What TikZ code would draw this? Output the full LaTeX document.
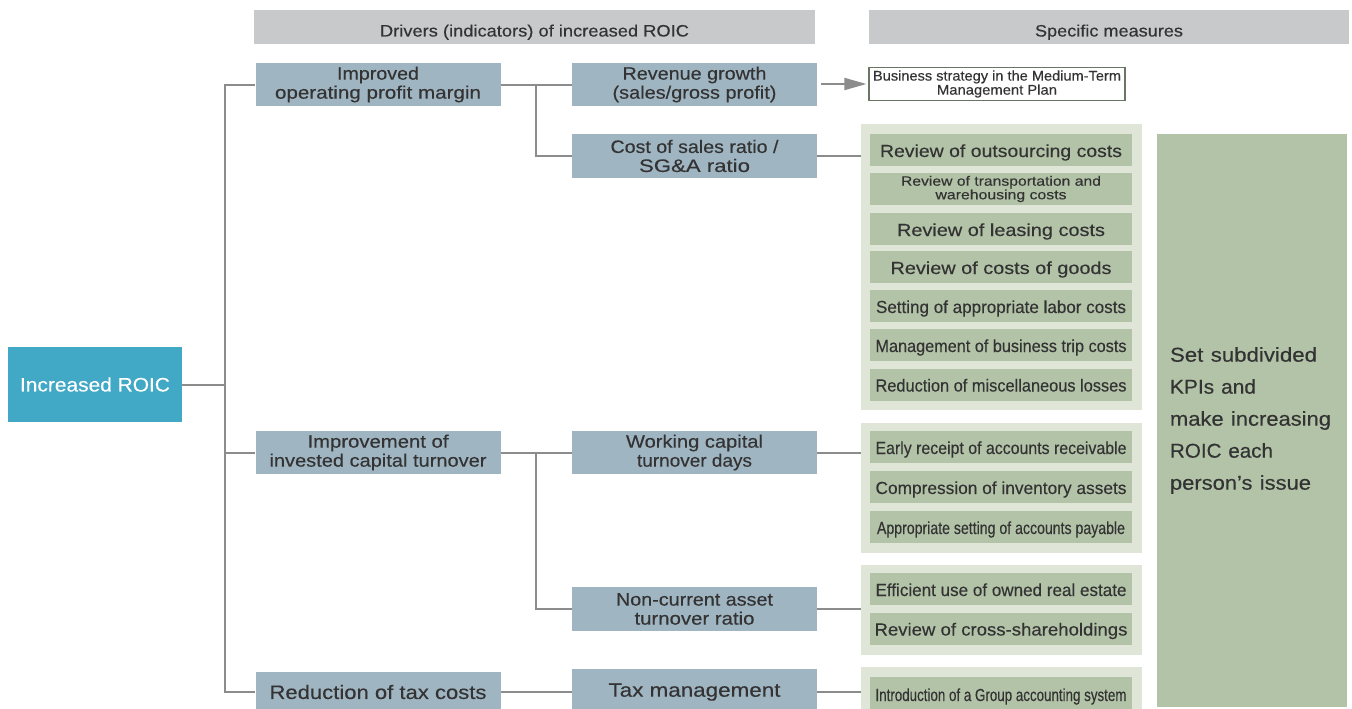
\documentclass[tikz,border=0pt]{standalone}
\usepackage{fontspec}
\setmainfont{Liberation Sans}[FakeBold=0.3]
\usepackage{graphicx}
\usepackage{xcolor}
\usepackage{tikz}
\usetikzlibrary{arrows.meta}
\definecolor{hdrgray}{HTML}{C8C9CB}
\definecolor{lvlblue}{HTML}{A0B5C2}
\definecolor{roicblue}{HTML}{41A8C6}
\definecolor{panelgreen}{HTML}{DFE6D8}
\definecolor{msrgreen}{HTML}{B3C3A8}
\definecolor{linegray}{HTML}{8C8C8C}
\definecolor{txt}{HTML}{333333}
\newcommand{\fw}[2]{\resizebox{#1pt}{\height}{#2}}

\begin{document}
\begin{tikzpicture}[x=1pt, y=-1pt,
    hdr/.style={fill=hdrgray, minimum height=34pt, inner sep=0pt, text height=19pt, text depth=0pt, text=txt, font=\fontsize{16.5}{18}\selectfont},
    lvl/.style={fill=lvlblue, minimum width=245pt, minimum height=43pt, inner sep=0pt, align=center, text=txt, font=\fontsize{18}{19}\selectfont},
    panel/.style={fill=panelgreen, minimum width=281pt, inner sep=0pt},
    msr/.style={fill=msrgreen, minimum width=262pt, minimum height=32pt, inner sep=0pt, align=center, text=txt, font=\fontsize{17.5}{19}\selectfont},
    onerow/.style={text height=14pt, text depth=0pt},
    link/.style={draw=linegray, line width=2pt}]
    \useasboundingbox (0,0) rectangle (1352,709);

    % Column headers
    \node[hdr, minimum width=561pt] (hdrA) at (534.5,27) {\fw{309}{Drivers (indicators) of increased ROIC}};
    \node[hdr, minimum width=480pt] (hdrB) at (1109,27) {\fw{148}{Specific measures}};

    % Goal
    \node[fill=roicblue, minimum width=174pt, minimum height=75pt, inner sep=0pt, text=white,
          font=\fontsize{19.5}{21}\selectfont] (roic) at (95,384.5) {\fw{150}{Increased ROIC}};

    % Drivers, first level
    \node[lvl, yshift=0pt] (opm) at (378,84.5) {\fw{82}{Improved}\\\fw{206}{operating profit margin}};
    \node[lvl] (ict) at (378,452.5) {\fw{141}{Improvement of}\\\fw{217}{invested capital turnover}};
    \node[lvl, minimum height=40pt, font=\fontsize{19.5}{21}\selectfont] (tax) at (378,692) {\fw{217}{Reduction of tax costs}};

    % Drivers, second level
    \node[lvl] (rev) at (694.5,84.5) {\fw{144}{Revenue growth}\\\fw{164}{(sales/gross profit)}};
    \node[lvl, minimum height=44pt] (cos) at (694.5,156) {\fw{168}{Cost of sales ratio /}\\\fw{111}{SG\&A ratio}};
    \node[lvl] (wct) at (694.5,452.5) {\fw{137}{Working capital}\\\fw{115}{turnover days}};
    \node[lvl, minimum height=44pt] (nca) at (694.5,609) {\fw{157}{Non-current asset}\\\fw{120}{turnover ratio}};
    \node[lvl, minimum height=46pt, font=\fontsize{19.5}{21}\selectfont] (txm) at (694.5,692) {\fw{172}{Tax management}};

    % Tree lines
    \coordinate (trunk) at (225,0);
    \coordinate (fork) at (536,0);
    \draw[link] (roic.east) -- (roic.east -| trunk);
    \draw[link] (opm.west) -- (opm.west -| trunk) -- (tax.west -| trunk) -- (tax.west);
    \draw[link] (ict.west) -- (ict.west -| trunk);
    \draw[link] (opm.east) -- (rev.west);
    \draw[link] (opm.east -| fork) |- (cos.west);
    \draw[link] (ict.east) -- (wct.west);
    \draw[link] (ict.east -| fork) |- (nca.west);
    \draw[link] (tax.east) -- (txm.west);

    % Specific measures
    \node[draw=msrgreen!60!black, line width=1.2pt, fill=white, minimum width=256pt, minimum height=33pt, inner sep=0pt,
          align=center, text=txt, font=\fontsize{14}{13}\selectfont] (bsp) at (997,84)
          {\fw{248}{Business strategy in the Medium-Term}\\\fw{120}{Management Plan}};
    \draw[link, -{Triangle[length=22pt, width=12pt]}, shorten <=4pt, shorten >=2pt] (rev.east |- bsp.west) -- (bsp.west);

    \node[panel, minimum height=286pt] (p1) at (1001.5,267) {};
    \node[panel, minimum height=130pt] (p2) at (1001.5,488) {};
    \node[panel, minimum height=90pt] (p3) at (1001.5,610) {};
    \node[panel, minimum height=48pt] (p4) at (1001.5,691) {};

    \node[msr, onerow] (m1) at (1001,150) {\fw{242}{Review of outsourcing costs}};
    \node[msr, font=\fontsize{13.5}{12.5}\selectfont] (m2) at (1001,189) {\fw{200}{Review of transportation and}\\\fw{131}{warehousing costs}};
    \node[msr, onerow] (m3) at (1001,229) {\fw{208}{Review of leasing costs}};
    \node[msr, onerow] (m4) at (1001,267) {\fw{221}{Review of costs of goods}};
    \node[msr, onerow] (m5) at (1001,306) {\fw{250}{Setting of appropriate labor costs}};
    \node[msr, onerow] (m6) at (1001,345) {\fw{251}{Management of business trip costs}};
    \node[msr, onerow] (m7) at (1001,384.5) {\fw{251}{Reduction of miscellaneous losses}};
    \node[msr, onerow] (m8) at (1001,447) {\fw{251}{Early receipt of accounts receivable}};
    \node[msr, onerow] (m9) at (1001,487) {\fw{251}{Compression of inventory assets}};
    \node[msr, onerow] (m10) at (1001,527) {\fw{248}{Appropriate setting of accounts payable}};
    \node[msr, onerow] (m11) at (1001,589) {\fw{251}{Efficient use of owned real estate}};
    \node[msr, onerow] (m12) at (1001,628.5) {\fw{253}{Review of cross-shareholdings}};
    \node[msr, onerow, minimum height=34pt] (m13) at (1001,694) {\fw{251}{Introduction of a Group accounting system}};

    \draw[link] (cos.east) -- (cos.east -| p1.west);
    \draw[link] (wct.east) -- (wct.east -| p2.west);
    \draw[link] (nca.east) -- (nca.east -| p3.west);
    \draw[link] (txm.east) -- (txm.east -| p4.west);

    % KPI box
    \node[fill=msrgreen, minimum width=190pt, minimum height=573pt, inner xsep=13pt, inner ysep=0pt, text width=164pt,
          align=left, text=txt, font=\fontsize{20}{32}\selectfont] (kpi) at (1252,420.5)
          {\fw{147}{Set subdivided}\\\fw{86}{KPIs and}\\\fw{161}{make increasing}\\\fw{103}{ROIC each}\\\fw{141}{person’s issue}};
\end{tikzpicture}
\end{document}
